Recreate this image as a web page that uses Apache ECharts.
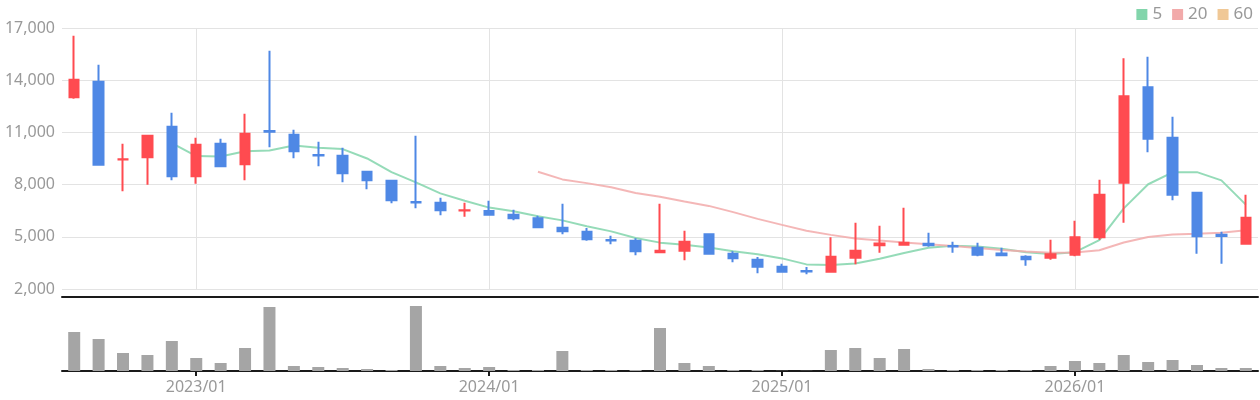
<!DOCTYPE html>
<html>
<head>
<meta charset="utf-8">
<script src="https://cdn.jsdelivr.net/npm/echarts@6/dist/echarts.min.js"></script>
<style>html,body{margin:0;padding:0;background:#fff}#c{width:1260px;height:400px}</style>
</head>
<body>
<div id="c"></div>
<script>
const categories = ['2022/08','2022/09','2022/10','2022/11','2022/12',
  '2023/01','2023/02','2023/03','2023/04','2023/05','2023/06','2023/07','2023/08','2023/09','2023/10','2023/11','2023/12',
  '2024/01','2024/02','2024/03','2024/04','2024/05','2024/06','2024/07','2024/08','2024/09','2024/10','2024/11','2024/12',
  '2025/01','2025/02','2025/03','2025/04','2025/05','2025/06','2025/07','2025/08','2025/09','2025/10','2025/11','2025/12',
  '2026/01','2026/02','2026/03','2026/04','2026/05','2026/06','2026/07','2026/08'];
const opens  = [13015,13916,9440,9567,11330,8475,10352,9165,11080,10870,9700,9663,8743,8226,7000,6962,6510,6483,6272,6061,5525,5295,4810,4778,4110,4203,5142,4031,3686,3284,3030,2996,3801,4510,4550,4600,4470,4376,4040,3858,3801,3973,4970,8111,13590,10697,7536,5120,4605];
const closes = [14030,9146,9460,10812,8475,10295,9050,10927,11040,9912,9670,8648,8245,7096,6970,6521,6530,6272,6061,5544,5314,4855,4790,4165,4200,4720,4031,3763,3284,2996,3000,3858,4203,4620,4660,4520,4440,3973,3940,3705,3992,4970,7421,13073,10640,7421,5027,5050,6100];
const lows   = [12940,9088,7613,7996,8245,8054,8992,8245,10142,9510,9050,8130,7728,6923,6636,6234,6157,6234,5946,5487,5142,4778,4567,3935,4100,3647,4031,3533,2901,2939,2843,2996,3418,4088,4510,4433,4088,3878,3878,3342,3686,3878,4835,5812,9854,7096,4031,3456,4605];
const highs  = [16560,14893,10352,10812,12134,10697,10640,12077,15697,11157,10467,10123,8743,8226,10812,7249,6962,7077,6559,6215,6904,5506,5065,4912,6900,5353,5180,4165,3839,3456,3265,4970,5812,5640,6674,5237,4720,4663,4376,3935,4835,5927,8284,15257,15352,11904,7575,5295,7421];
const volumes = [39,32,18,16,30,13,8,23,64,5,4,3,2,1,65,5,3,4,1,1,20,1,1,1,43,8,5,1,1,0.2,0.2,21,23,13,22,2,1,1,1,1,5,10,8,16,9,11,6,3,3];
const maPeriods = [5,20,60];
const maColors = ['#82d5ab','#f2aaaa','#f0c896'];
const yTicks = {min:2000, max:17000, interval:3000};

function movingAverage(n){
  const out = [];
  for (let i = 0; i < closes.length; i++) {
    if (i < n - 1) { out.push('-'); continue; }
    let s = 0;
    for (let j = i - n + 1; j <= i; j++) s += closes[j];
    out.push(+(s / n).toFixed(1));
  }
  return out;
}
const candleData = categories.map((_, i) => [opens[i], closes[i], lows[i], highs[i]]);
const isYear = (idx, val) => String(val).endsWith('/01');

const chart = echarts.init(document.getElementById('c'));
const font = 'Noto Sans';
chart.setOption({
  animation: false,
  textStyle: {fontFamily: font},
  legend: {
    right: 2, top: 1, itemWidth: 11, itemHeight: 11, itemGap: 10,
    icon: 'rect',
    textStyle: {color: '#999', fontSize: 17, fontFamily: font},
    data: maPeriods.map(String)
  },
  grid: [
    {left: 62, right: 2, top: 28, height: 261},
    {left: 62, right: 2, top: 297, height: 74}
  ],
  xAxis: [
    {type: 'category', gridIndex: 0, data: categories, boundaryGap: true,
     axisLine: {show: false}, axisTick: {show: false}, axisLabel: {show: false},
     splitLine: {show: true, interval: isYear, alignWithLabel: true, lineStyle: {color: '#e3e3e3'}}},
    {type: 'category', gridIndex: 1, data: categories, boundaryGap: true, position: 'bottom',
     axisLine: {show: true, lineStyle: {color: '#1a1a1a', width: 2}},
     axisTick: {show: true, interval: isYear, alignWithLabel: true, length: 5, lineStyle: {color: '#1a1a1a', width: 2}},
     axisLabel: {show: true, interval: isYear, color: '#999', fontSize: 16, margin: 8, fontFamily: font},
     splitLine: {show: false}},
    {type: 'category', gridIndex: 1, data: categories, boundaryGap: true, position: 'top',
     axisLine: {show: true, onZero: false, lineStyle: {color: '#1a1a1a', width: 2}},
     axisTick: {show: false}, axisLabel: {show: false}, splitLine: {show: false}}
  ],
  yAxis: [
    {type: 'value', gridIndex: 0, min: yTicks.min, max: yTicks.max, interval: yTicks.interval,
     axisLine: {show: false}, axisTick: {show: false},
     axisLabel: {color: '#999', fontSize: 16, margin: 7, fontFamily: font,
       formatter: v => v.toLocaleString('en-US')},
     splitLine: {lineStyle: {color: '#e3e3e3'}}},
    {type: 'value', gridIndex: 1, min: 0, max: 74,
     axisLine: {show: false}, axisTick: {show: false}, axisLabel: {show: false}, splitLine: {show: false}}
  ],
  series: [
    {type: 'candlestick', name: 'price', xAxisIndex: 0, yAxisIndex: 0, data: candleData, barWidth: 10,
     itemStyle: {color: '#ff4b50', color0: '#4f88e5', borderColor: '#ff4b50', borderColor0: '#4f88e5', borderWidth: 2}},
    ...maPeriods.map((p, k) => ({
      type: 'line', name: String(p), xAxisIndex: 0, yAxisIndex: 0, data: movingAverage(p),
      showSymbol: false, symbol: 'none', smooth: false, z: 1,
      itemStyle: {color: maColors[k]},
      lineStyle: {color: maColors[k], width: 2, opacity: 0.85}
    })),
    {type: 'bar', name: 'volume', xAxisIndex: 1, yAxisIndex: 1, data: volumes, barWidth: 12,
     itemStyle: {color: '#a5a5a5'}}
  ]
});
</script>
</body>
</html>
